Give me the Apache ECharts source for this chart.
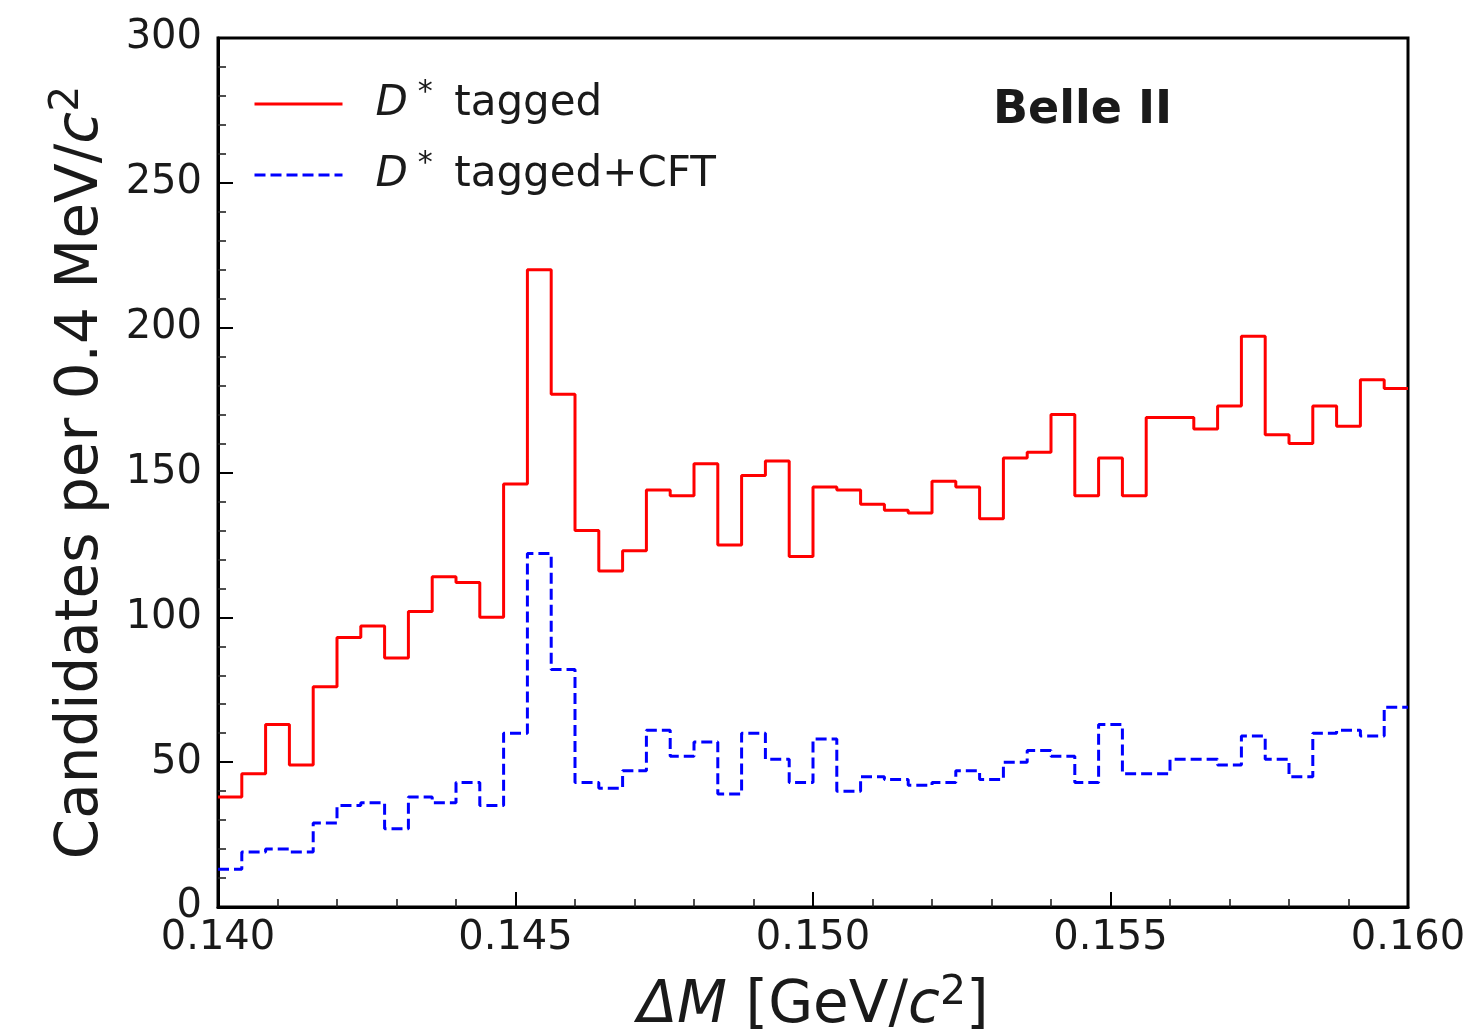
<!DOCTYPE html>
<html>
<head>
<meta charset="utf-8">
<script src="https://cdn.jsdelivr.net/npm/echarts@6/dist/echarts.min.js"></script>
<style>html,body{margin:0;padding:0;background:#fff}#c{width:1476px;height:1035px}</style>
</head>
<body>
<div id="c"></div>
<script>
const binEdges = [0.1400,0.1404,0.1408,0.1412,0.1416,0.1420,0.1424,0.1428,0.1432,0.1436,
  0.1440,0.1444,0.1448,0.1452,0.1456,0.1460,0.1464,0.1468,0.1472,0.1476,
  0.1480,0.1484,0.1488,0.1492,0.1496,0.1500,0.1504,0.1508,0.1512,0.1516,
  0.1520,0.1524,0.1528,0.1532,0.1536,0.1540,0.1544,0.1548,0.1552,0.1556,
  0.1560,0.1564,0.1568,0.1572,0.1576,0.1580,0.1584,0.1588,0.1592,0.1596,0.1600];
const tagged = [38,46,63,49,76,93,97,86,102,114,
  112,100,146,220,177,130,116,123,144,142,
  153,125,149,154,121,145,144,139,137,136,
  147,145,134,155,157,170,142,155,142,169,
  169,165,173,197,163,160,173,166,182,179];
const taggedCFT = [13,19,20,19,29,35,36,27,38,36,
  43,35,60,122,82,43,41,47,61,52,
  57,39,60,51,43,58,40,45,44,42,
  43,47,44,50,54,52,43,63,46,46,
  51,51,49,59,51,45,60,61,59,69];
const seriesNames = ['D* tagged', 'D* tagged+CFT'];
const xTickLabels = ['0.140','0.145','0.150','0.155','0.160'];

function histData(vals){
  return binEdges.map((x,i)=>[x, vals[Math.min(i, vals.length-1)]]);
}
const FONT = 'DejaVu Sans';
const TXT = '#1a1a1a';
const chart = echarts.init(document.getElementById('c'), null, {renderer:'canvas'});
chart.setOption({
  animation:false,
  backgroundColor:'#fff',
  grid:{left:218, right:68, top:38, bottom:128, outerBoundsMode:'none', containLabel:false,
        show:true, borderColor:'#000', borderWidth:3, backgroundColor:'transparent'},
  xAxis:{
    type:'value', min:0.140, max:0.160, interval:0.005,
    axisLine:{show:true, lineStyle:{color:'#000', width:3}},
    axisTick:{show:true, inside:true, length:15, lineStyle:{color:'#000', width:2}},
    minorTick:{show:true, splitNumber:5, length:8, lineStyle:{color:'#222', width:1.6}},
    splitLine:{show:false},
    axisLabel:{fontFamily:FONT, fontSize:40, color:TXT, margin:12,
      formatter:function(v){ const s=v.toFixed(3); return xTickLabels.indexOf(s)>=0?s:''; }},
    name:'{i|ΔM} [GeV/{i|c}{sup|2}]', nameLocation:'middle', nameGap:66,
    nameTextStyle:{fontFamily:FONT, fontSize:58, color:TXT, verticalAlign:'top',
      rich:{i:{fontFamily:FONT, fontSize:58, fontStyle:'italic', color:TXT},
            sup:{fontFamily:FONT, fontSize:41, color:TXT, padding:[0,0,26,0]}}}
  },
  yAxis:{
    type:'value', min:0, max:300, interval:50,
    axisLine:{show:true, lineStyle:{color:'#000', width:3}},
    axisTick:{show:true, inside:true, length:15, lineStyle:{color:'#000', width:2}},
    minorTick:{show:true, splitNumber:5, length:8, lineStyle:{color:'#222', width:1.6}},
    splitLine:{show:false},
    axisLabel:{fontFamily:FONT, fontSize:40, color:TXT, margin:16},
    name:'Candidates per 0.4 MeV/{i|c}{sup|2}', nameLocation:'middle', nameGap:102,
    nameTextStyle:{fontFamily:FONT, fontSize:58, color:TXT,
      rich:{i:{fontFamily:FONT, fontSize:58, fontStyle:'italic', color:TXT},
            sup:{fontFamily:FONT, fontSize:41, color:TXT, padding:[0,0,28,0]}}}
  },
  legend:{
    left:248, top:73, orient:'vertical', itemWidth:88, itemHeight:30, itemGap:24,
    data:seriesNames,
    itemStyle:{opacity:0},
    lineStyle:{width:3},
    formatter:function(n){ return '{i|D}{s|*} ' + n.replace('D* ',''); },
    textStyle:{fontFamily:FONT, fontSize:42, color:TXT, padding:[0,0,0,28],
      rich:{i:{fontFamily:FONT, fontSize:42, fontStyle:'italic', color:TXT},
            s:{fontFamily:FONT, fontSize:30, color:TXT, padding:[0,8,22,10]}}}
  },
  graphic:[{type:'text', left:993, top:88, style:{text:'Belle II', font:'bold 46px "DejaVu Sans"', fill:TXT}}],
  series:[
    {name:seriesNames[0], type:'line', step:'end', showSymbol:false, symbol:'none',
     data:histData(tagged), lineStyle:{color:'#ff0000', width:3}, itemStyle:{color:'#ff0000'}},
    {name:seriesNames[1], type:'line', step:'end', showSymbol:false, symbol:'none',
     data:histData(taggedCFT), lineStyle:{color:'#0000ff', width:3, type:[11,5]}, itemStyle:{color:'#0000ff'}}
  ]
});
</script>
</body>
</html>
